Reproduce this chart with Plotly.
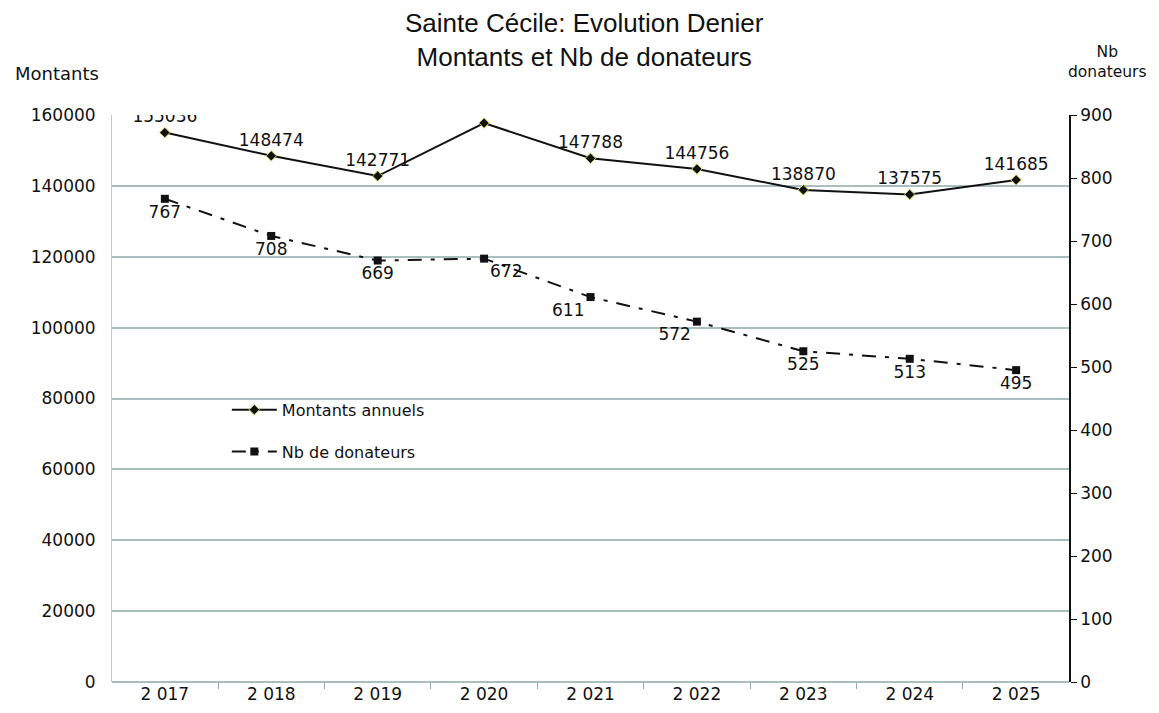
import plotly.graph_objects as go

years = ["2 017", "2 018", "2 019", "2 020", "2 021", "2 022", "2 023", "2 024", "2 025"]
montants = [155036, 148474, 142771, 157724, 147788, 144756, 138870, 137575, 141685]
donateurs = [767, 708, 669, 672, 611, 572, 525, 513, 495]

FONT = "DejaVu Sans, sans-serif"
lab_font = dict(family=FONT, size=17, color="#111")
tick_font = dict(family=FONT, size=17, color="#111")

nb_text_pos = ["bottom center", "bottom center", "bottom center", "bottom right",
               "bottom left", "bottom left", "bottom center", "bottom center", "bottom center"]

fig = go.Figure()
fig.add_trace(go.Scatter(
    x=years, y=montants, name="Montants annuels", mode="lines+markers+text",
    legendgroup="a",
    line=dict(color="#111", width=2),
    marker=dict(symbol="diamond", size=8, color="#111", line=dict(color="#cdd65a", width=1)),
    text=[str(v) for v in montants], textposition="top center", textfont=lab_font,
    yaxis="y"))
fig.add_trace(go.Scatter(
    x=years, y=donateurs, name="Nb de donateurs", mode="lines+markers+text",
    legendgroup="b",
    line=dict(color="#111", width=2, dash="14px,9px,4px,9px"),
    marker=dict(symbol="square", size=8, color="#111"),
    text=[str(v) for v in donateurs], textposition=nb_text_pos, textfont=lab_font,
    yaxis="y2"))

fig.update_layout(
    width=1151, height=705,
    margin=dict(l=104, r=90, t=107, b=31, autoexpand=False),
    paper_bgcolor="white", plot_bgcolor="white",
    xaxis=dict(type="category", tickson="boundaries", ticks="outside", ticklen=6,
               tickcolor="#9aa", showgrid=False, showline=False, automargin=False,
               tickfont=tick_font),
    yaxis=dict(range=[0, 160000], dtick=20000, tickformat="d", showgrid=True,
               gridcolor="#a9bfbf", gridwidth=1.5, automargin=False,
               showline=True, linecolor="#b9cccc", zeroline=True, zerolinecolor="#a9bfbf",
               zerolinewidth=1.5, ticks="", ticklabelstandoff=12, tickfont=tick_font),
    yaxis2=dict(range=[0, 900], dtick=100, overlaying="y", side="right", showgrid=False,
                showline=True, linecolor="#111", linewidth=1.5, ticks="outside", ticklen=6,
                tickcolor="#111", zeroline=False, automargin=False, tickfont=tick_font),
    showlegend=True,
    legend=dict(x=0.12, y=0.51, xanchor="left", yanchor="top", bgcolor="rgba(0,0,0,0)",
                font=dict(family=FONT, size=16, color="#111"), tracegroupgap=18,
                traceorder="grouped", itemwidth=45),
    annotations=[
        dict(text="Sainte Cécile: Evolution Denier<br>Montants et Nb de donateurs",
             xref="paper", yref="paper", x=0.494, y=1.132, xanchor="center", yanchor="middle",
             showarrow=False, borderpad=0,
             font=dict(family="Liberation Sans, Arial, sans-serif", size=26, color="#111")),
        dict(text="Montants", xref="paper", yref="paper", x=-0.0575, y=1.074, xanchor="center",
             yanchor="middle", showarrow=False,
             font=dict(family=FONT, size=18, color="#111")),
        dict(text="Nb<br>donateurs", xref="paper", yref="paper", x=1.04, y=1.093, xanchor="center",
             yanchor="middle", showarrow=False, borderpad=0,
             font=dict(family=FONT, size=15.5, color="#111")),
    ],
)
fig.write_html("out.html")
